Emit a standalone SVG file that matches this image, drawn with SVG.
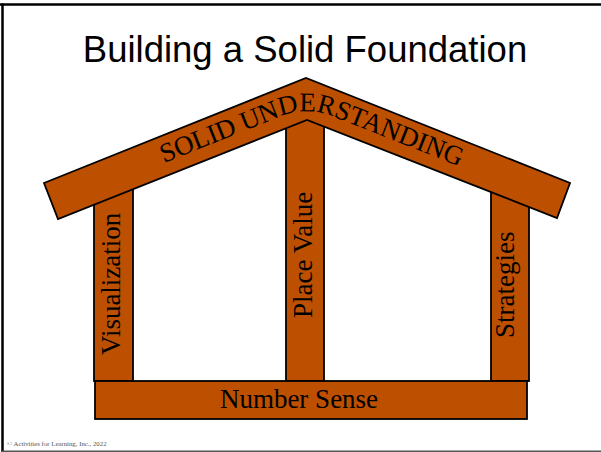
<svg xmlns="http://www.w3.org/2000/svg" width="601" height="452" viewBox="0 0 601 452">
<style>
.wood{fill:#BD4F00;stroke:#000;stroke-width:1.8;stroke-linejoin:miter}
.lbl{font-family:"Liberation Serif","Times New Roman",serif;font-size:27px;fill:#000}
.title{font-family:"Liberation Sans",Arial,sans-serif;font-size:36.5px;fill:#000}
</style>
<defs>
<path id="roofline" d="M51,208 L280,116.6 Q306.5,106 333,116.5 L563.5,207.5" fill="none"/>
</defs>
<rect width="601" height="452" fill="#fff"/>
<g id="frame" fill="none">
<line x1="0" y1="4.5" x2="601" y2="4.5" stroke="#000" stroke-width="2.5"/>
<line x1="2.5" y1="3.5" x2="2.5" y2="452" stroke="#000" stroke-width="2.5"/>
<line x1="2" y1="451.2" x2="601" y2="451.2" stroke="#555" stroke-width="1.5"/>
</g>
<g id="title"><text class="title" x="305" y="62" text-anchor="middle">Building a Solid Foundation</text></g>
<g id="connectors"></g>
<g id="visualization">
<rect class="wood" x="94" y="170" width="39" height="211"/>
<text class="lbl" transform="translate(120,355) rotate(-90)">Visualization</text>
</g>
<g id="place-value">
<rect class="wood" x="286" y="100" width="38" height="281"/>
<text class="lbl" transform="translate(312,318) rotate(-90)">Place Value</text>
</g>
<g id="strategies">
<rect class="wood" x="491" y="170" width="38" height="211"/>
<text class="lbl" transform="translate(514,338) rotate(-90)">Strategies</text>
</g>
<g id="number-sense">
<rect class="wood" x="95" y="381" width="432" height="38"/>
<text class="lbl" x="299" y="408" text-anchor="middle">Number Sense</text>
</g>
<g id="solid-understanding">
<polygon class="wood" points="44,183 306,78 570,183 557,218 307,120 58,219"/>
<text class="lbl"><textPath href="#roofline" startOffset="121.7">SOLID UNDERSTANDING</textPath></text>
</g>
<g id="copyright"><text x="7" y="446" font-family="'Liberation Serif','Times New Roman',serif" font-size="6.8" fill="#555">© Activities for Learning, Inc., 2022</text></g>
</svg>
